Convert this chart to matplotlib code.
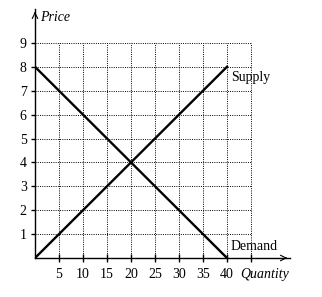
import numpy as np
import matplotlib.pyplot as plt

# data
quantity = [0, 40]
supply_price = [0, 8]
demand_price = [8, 0]
x_ticks = [5, 10, 15, 20, 25, 30, 35, 40, 45]
x_labels = ['5', '10', '15', '20', '25', '30', '35', '40', '']
y_ticks = [1, 2, 3, 4, 5, 6, 7, 8, 9]

plt.rcParams['font.family'] = ['Liberation Serif', 'DejaVu Serif']

fig = plt.figure(figsize=(3.22, 2.97), dpi=100)
ax = fig.add_axes([35/322, 39/297, 255/322, 249/297])
ax.set_xlim(0, 255/4.8)
ax.set_ylim(0, 249/23.9)

# dotted grid
for x in x_ticks:
    ax.plot([x, x], [0, 9], color='black', lw=0.7, ls=(0, (1, 1.3)))
for y in y_ticks:
    ax.plot([0, 45], [y, y], color='black', lw=0.7, ls=(0, (1, 1.3)))

ax.plot(quantity, supply_price, color='black', lw=1.7)
ax.plot(quantity, demand_price, color='black', lw=1.7)

for s in ['top', 'right']:
    ax.spines[s].set_visible(False)
ax.spines['left'].set_linewidth(1)
ax.spines['bottom'].set_linewidth(1)

ax.set_xticks(x_ticks)
ax.set_xticklabels(x_labels, fontsize=10)
ax.set_yticks(y_ticks)
ax.set_yticklabels([str(v) for v in y_ticks], fontsize=10)
ax.tick_params(axis='x', direction='inout', length=6, width=1, pad=4)
ax.tick_params(axis='y', direction='out', length=3, width=1, pad=3)

# axis arrows
ax.annotate('', xy=(1.0, 0), xycoords='axes fraction', xytext=(0.97, 0),
            arrowprops=dict(arrowstyle='->', lw=0.8, color='black'))
ax.annotate('', xy=(0, 1.0), xycoords='axes fraction', xytext=(0, 0.97),
            arrowprops=dict(arrowstyle='->', lw=0.8, color='black'))

ax.text(1, 10.35, 'Price', fontsize=10, style='italic', va='top', ha='left')
ax.text(53, -0.42, 'Quantity', fontsize=10, style='italic', va='top', ha='right')
ax.text(40.8, 7.55, 'Supply', fontsize=10, va='center', ha='left')
ax.text(40.8, 0.5, 'Demand', fontsize=10, va='center', ha='left')

fig.savefig('out.png', dpi=100)
